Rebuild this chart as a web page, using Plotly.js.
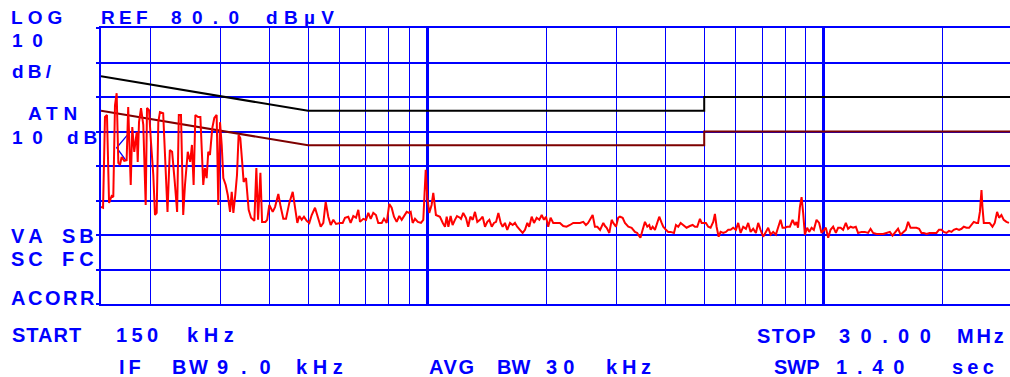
<!DOCTYPE html>
<html>
<head>
<meta charset="utf-8">
<script src="https://cdn.plot.ly/plotly-3.0.1.min.js"></script>
<style>
  html, body { margin: 0; padding: 0; background: #ffffff; overflow: hidden; }
  #chart { width: 1010px; height: 377px; }
</style>
</head>
<body>
<div id="chart"></div>
<script>
// ---------------- DATA ----------------
// Measured spectrum (frequency in kHz, level in dBµV)
const freqKHz = [
  150, 151.8, 153.5, 155.3, 157.2, 159.6, 161.1, 162.7, 164.3, 165.9,
  167.5, 169.1, 171.7, 174.1, 175.7, 178.3, 179.9, 182.0, 184.6, 185.7,
  187.1, 189.3, 191.8, 194.5, 196.0, 198.3, 200.6, 203.3, 205.3, 207.3,
  209.3, 211.3, 215.3, 217.4, 220.8, 223.8, 226.8, 230.3, 233.5, 235.8,
  238.8, 241.9, 244.4, 248.4, 251.9, 254.5, 257.0, 259.6, 263.8, 267.3,
  269.2, 271.8, 274.4, 277.2, 279.8, 282.6, 286.4, 289.8, 293.8, 296.6,
  299.6, 302.6, 305.4, 309.7, 313.4, 317.6, 320.7, 323.8, 327.4, 330.7,
  333.8, 337.1, 340.5, 343.7, 348.5, 353.9, 358.8, 365.8, 370.1, 373.8,
  378.9, 382.6, 390.1, 394.1, 399.0, 407.0, 412.5, 420.5, 426.4, 432.9,
  439.7, 448.2, 457.2, 463.3, 469.6, 475.1, 481.7, 488.1, 495.9, 503.4,
  510.5, 520.5, 530.5, 538.0, 546.2, 553.8, 562.2, 570.2, 578.9, 588.1,
  601.9, 611.3, 619.5, 631.5, 640.2, 650.3, 660.5, 669.4, 676.0, 689.2,
  700.1, 709.5, 719.4, 730.3, 741.8, 751.8, 766.9, 777.2, 789.5, 801.5,
  812.6, 823.7, 836.7, 849.4, 861.5, 873.1, 886.9, 898.8, 907.6, 918.2,
  930.6, 946.1, 963.8, 976.7, 990.5, 999.7, 1011, 1025, 1035, 1051,
  1076, 1094, 1108, 1119, 1130, 1145, 1158, 1174, 1188, 1209,
  1216, 1232, 1252, 1268, 1284, 1302, 1319, 1337, 1358, 1379,
  1398, 1417, 1434, 1454, 1473, 1491, 1511, 1532, 1549, 1570,
  1591, 1617, 1642, 1664, 1686, 1713, 1740, 1764, 1788, 1808,
  1834, 1859, 1888, 1917, 1944, 1970, 1993, 2019, 2047, 2079,
  2120, 2161, 2203, 2246, 2291, 2335, 2381, 2428, 2475, 2514,
  2546, 2580, 2614, 2649, 2686, 2730, 2781, 2809, 2836, 2880,
  2920, 2947, 2994, 3033, 3064, 3112, 3154, 3216, 3279, 3343,
  3388, 3407, 3451, 3496, 3543, 3591, 3633, 3663, 3705, 3755,
  3806, 3850, 3904, 3940, 4003, 4056, 4112, 4194, 4243, 4299,
  4360, 4426, 4513, 4601, 4675, 4738, 4802, 4877, 4926, 4992,
  5050, 5118, 5189, 5269, 5321, 5373, 5437, 5500, 5584, 5672,
  5749, 5829, 5918, 6012, 6093, 6178, 6272, 6371, 6457, 6547,
  6647, 6752, 6843, 6938, 7044, 7156, 7252, 7355, 7466, 7584,
  7686, 7793, 7885, 7992, 8100, 8228, 8357, 8470, 8550, 8627,
  8719, 8806, 8888, 8976, 9097, 9203, 9332, 9457, 9606, 9752,
  9890, 10020, 10140, 10280, 10420, 10580, 10750, 10890, 11050, 11210,
  11390, 11540, 11710, 11880, 12070, 12230, 12480, 12720, 12960, 13150,
  13350, 13620, 13880, 14150, 14420, 14710, 14940, 15140, 15430, 15660,
  15890, 16140, 16360, 16590, 16840, 17170, 17440, 17680, 17920, 18200,
  18540, 18910, 19290, 19570, 19860, 20130, 20440, 20750, 21050, 21330,
  21660, 22000, 22310, 22610, 22970, 23320, 23640, 23960, 24340, 24570,
  24830, 25060, 25200, 25400, 25780, 26270, 26710, 27070, 27440, 27760,
  28140, 28520, 28970, 29400
];
const levelDbuV = [
  28.1, 27.9, 54.2, 54.8, 29.3, 31.3, 31.0, 57.6, 61.1, 40.9,
  40.3, 42.6, 41.5, 41.7, 57.1, 34.5, 51.3, 44.1, 49.8, 41.2,
  52.7, 56.8, 51.9, 28.7, 56.8, 56.2, 46.9, 37.4, 25.8, 26.4,
  52.7, 55.6, 55.3, 44.1, 26.7, 44.6, 44.1, 35.4, 26.7, 54.8,
  54.8, 25.8, 34.5, 44.1, 41.2, 46.1, 34.5, 54.8, 54.2, 54.2,
  44.1, 34.5, 39.4, 36.5, 44.1, 43.2, 51.0, 53.9, 54.8, 28.7,
  52.7, 46.1, 36.5, 34.5, 31.6, 26.7, 32.5, 26.4, 31.6, 37.4,
  49.0, 48.1, 41.7, 35.4, 36.5, 27.3, 25.0, 24.1, 39.4, 24.4,
  38.0, 23.8, 23.8, 24.4, 28.7, 26.7, 28.1, 31.9, 28.1, 24.7,
  24.7, 29.3, 32.5, 27.3, 23.5, 25.5, 24.4, 25.3, 24.1, 23.5,
  25.8, 27.9, 24.4, 22.4, 23.5, 29.6, 25.3, 22.9, 24.4, 23.2,
  23.5, 23.5, 25.0, 25.3, 23.5, 25.5, 25.0, 27.3, 23.8, 24.7,
  24.4, 26.4, 24.7, 26.4, 25.8, 23.5, 23.5, 24.7, 23.5, 29.0,
  27.9, 25.3, 23.8, 25.5, 24.4, 25.3, 26.7, 26.4, 26.7, 23.5,
  24.7, 23.8, 23.5, 24.4, 38.9, 31.0, 26.4, 28.7, 32.2, 25.8,
  25.3, 23.5, 22.4, 25.3, 22.4, 25.5, 22.9, 24.4, 25.5, 25.0,
  24.7, 26.4, 24.9, 22.4, 25.3, 24.4, 26.7, 23.8, 24.4, 25.3,
  22.4, 23.8, 24.4, 22.4, 23.5, 23.8, 26.4, 23.5, 22.4, 23.5,
  21.5, 23.5, 22.9, 23.5, 22.4, 21.5, 20.6, 21.5, 23.5, 22.4,
  25.3, 23.5, 25.0, 24.4, 25.8, 24.4, 25.3, 22.4, 25.0, 23.5,
  23.5, 23.5, 22.6, 22.4, 22.9, 23.5, 23.5, 23.5, 23.8, 22.9,
  23.5, 24.7, 25.8, 22.4, 22.4, 21.5, 23.5, 22.6, 22.1, 20.6,
  24.4, 23.5, 22.4, 25.0, 25.3, 25.0, 23.5, 22.4, 22.1, 20.9,
  20.6, 20.1, 19.2, 21.5, 23.8, 22.4, 22.9, 21.5, 22.4, 21.5,
  23.5, 25.3, 23.5, 22.4, 21.5, 20.9, 20.9, 20.6, 22.9, 22.4,
  23.5, 22.9, 22.1, 22.6, 22.9, 22.4, 22.4, 24.7, 23.5, 23.5,
  23.5, 22.4, 22.1, 23.8, 26.1, 22.4, 19.5, 20.9, 20.6, 20.9,
  21.5, 21.5, 22.1, 21.5, 23.5, 20.6, 22.4, 21.8, 23.5, 20.9,
  21.8, 20.6, 23.5, 21.5, 19.5, 20.9, 22.1, 20.1, 20.9, 20.1,
  22.4, 24.4, 22.1, 22.1, 22.4, 22.4, 24.4, 22.9, 23.8, 22.1,
  28.1, 31.0, 26.4, 20.1, 22.1, 20.9, 22.1, 21.5, 24.4, 23.5,
  20.6, 21.5, 22.1, 19.2, 21.5, 22.4, 20.6, 22.1, 22.1, 21.5,
  23.5, 21.8, 22.4, 22.1, 22.4, 20.6, 20.9, 20.9, 20.6, 21.8,
  20.6, 20.3, 20.3, 20.3, 20.6, 20.9, 19.8, 20.6, 21.8, 20.1,
  20.9, 21.5, 23.8, 22.1, 22.1, 22.1, 21.8, 20.6, 20.6, 20.3,
  20.6, 20.6, 20.6, 21.5, 21.5, 20.9, 20.6, 21.2, 20.9, 21.5,
  21.8, 21.5, 21.8, 22.4, 22.1, 22.1, 22.9, 23.8, 23.5, 23.5,
  26.7, 33.0, 28.1, 23.5, 23.5, 23.5, 22.4, 23.5, 26.7, 25.0,
  25.8, 24.4, 23.8, 23.5
];

// Limit lines (kHz, dBµV)
const limitFreqKHz = [150, 500, 5000, 5000, 30000];
const qpLimitDbuV  = [66, 56, 56, 60, 60];
const avgLimitDbuV = [56, 46, 46, 50, 50];

// Small display marker
const markerFreqKHz = [175, 164.3, 173.2];
const markerDbuV    = [49.0, 45.3, 41.7];

// Grid / axis values
const majorGridKHz = [1000, 10000];
const minorGridKHz = [200, 300, 400, 500, 600, 700, 800, 900,
                      2000, 3000, 4000, 5000, 6000, 7000, 8000, 9000, 20000];
const levelGrid = [0, 10, 20, 30, 40, 50, 60, 70, 80];
const startKHz = 150;

// Labels
const labelTexts = {
  log: 'LOG', ref: 'REF', refVal: '80.0', refUnit: 'dBµV',
  scale: '10', scaleUnit: 'dB/', atn: 'ATN', atnVal: '10', atnUnit: 'dB',
  va: 'VA', sb: 'SB', sc: 'SC', fc: 'FC', acorr: 'ACORR',
  start: 'START', startVal: '150', startUnit: 'kHz',
  stop: 'STOP', stopVal: '30.00', stopUnit: 'MHz',
  ifbw: 'IF', bw1: 'BW', ifVal: '9.0', ifUnit: 'kHz',
  avg: 'AVG', bw2: 'BW', avgVal: '30', avgUnit: 'kHz',
  swp: 'SWP', swpVal: '1.40', swpUnit: 'sec'
};

// ---------------- LAYOUT ----------------
const W = 1010, H = 377;
const M = { l: 101, r: 0, t: 28, b: 73 };
const plotW = W - M.l - M.r, plotH = H - M.t - M.b;
const PX_PER_DECADE = 396.1;
const xRange = [Math.log10(startKHz), Math.log10(startKHz) + plotW / PX_PER_DECADE];

const BLUE = '#0000ff';
const FONT = '"Liberation Sans", Arial, Helvetica, sans-serif';
const F1 = 19, F2 = 20;

// [text, left px, right px, baseline px, size]
const placements = [
  [labelTexts.log, 12, 61.7, 24, F1],
  [labelTexts.ref, 101.7, 146.7, 24, F1],
  [labelTexts.refVal, 171.7, 238, 24, F1],
  [labelTexts.refUnit, 266.7, 333, 24, F1],
  [labelTexts.scale, 12.7, 41.7, 46.7, F1],
  [labelTexts.scaleUnit, 12.7, 50, 78.3, F1],
  [labelTexts.atn, 29.3, 76.7, 120, F1],
  [labelTexts.atnVal, 12.7, 41.7, 144, F1],
  [labelTexts.atnUnit, 68.3, 96.7, 144, F1],
  [labelTexts.va, 11.7, 41.7, 242.7, F2],
  [labelTexts.sb, 63.3, 93.3, 242.7, F2],
  [labelTexts.sc, 11.7, 41.7, 266, F2],
  [labelTexts.fc, 63.3, 93.3, 266, F2],
  [labelTexts.acorr, 11.7, 93.3, 305, F2],
  [labelTexts.start, 12.7, 80, 342, F2],
  [labelTexts.startVal, 116.7, 157, 342, F2],
  [labelTexts.startUnit, 188, 233, 342, F2],
  [labelTexts.stop, 758.3, 815, 342.5, F2],
  [labelTexts.stopVal, 840, 930, 342.5, F2],
  [labelTexts.stopUnit, 958.3, 1003.3, 342.5, F2],
  [labelTexts.ifbw, 120, 140, 373.5, F2],
  [labelTexts.bw1, 172.7, 206.7, 373.5, F2],
  [labelTexts.ifVal, 218.3, 270, 373.5, F2],
  [labelTexts.ifUnit, 296.7, 341.7, 373.5, F2],
  [labelTexts.avg, 430, 473.3, 373.5, F2],
  [labelTexts.bw2, 498.3, 530, 373.5, F2],
  [labelTexts.avgVal, 546.7, 573.3, 373.5, F2],
  [labelTexts.avgUnit, 606.7, 650, 373.5, F2],
  [labelTexts.swp, 775, 818.3, 373.5, F2],
  [labelTexts.swpVal, 836.7, 903.3, 373.5, F2],
  [labelTexts.swpUnit, 953.3, 993.3, 373.5, F2]
];

const ctx = document.createElement('canvas').getContext('2d');
function letterSpacing(t, x0, x1, size) {
  ctx.font = 'bold ' + size + 'px "Liberation Sans"';
  const w = ctx.measureText(t).width;
  const n = Array.from(t).length;
  if (n < 2) return 0;
  return Math.max(0, (x1 - x0 - (w - 0.09 * size)) / (n - 1));
}

const annotations = placements.map(([t, x0, x1, base, size]) => {
  const ls = letterSpacing(t, x0, x1, size);
  const yc = base - 0.3465 * size;
  return {
    xref: 'paper', yref: 'paper',
    x: (x0 - 1 - M.l) / plotW,
    y: (M.t + plotH - yc) / plotH,
    xanchor: 'left', yanchor: 'middle',
    showarrow: false, borderpad: 0, borderwidth: 0,
    text: '<span style="letter-spacing:' + ls.toFixed(2) + 'px">' + t + '</span>',
    font: { family: FONT, size: size, color: BLUE, weight: 'bold' }
  };
});

const traces = [
  {
    x: limitFreqKHz, y: qpLimitDbuV, type: 'scatter', mode: 'lines',
    line: { color: '#000000', width: 2 }, hoverinfo: 'skip'
  },
  {
    x: limitFreqKHz, y: avgLimitDbuV, type: 'scatter', mode: 'lines',
    line: { color: '#7d0000', width: 2 }, hoverinfo: 'skip'
  },
  {
    x: markerFreqKHz, y: markerDbuV, type: 'scatter', mode: 'lines',
    line: { color: BLUE, width: 1.3 }, hoverinfo: 'skip'
  },
  {
    x: freqKHz, y: levelDbuV, type: 'scatter', mode: 'lines',
    line: { color: '#ff0000', width: 2 }, hoverinfo: 'skip'
  }
];

const layout = {
  width: W, height: H,
  margin: { l: M.l, r: M.r, t: M.t, b: M.b, pad: 0 },
  paper_bgcolor: '#ffffff', plot_bgcolor: '#ffffff',
  showlegend: false,
  xaxis: {
    type: 'log', range: xRange, fixedrange: true,
    tickmode: 'array', tickvals: majorGridKHz, showticklabels: false, ticks: '',
    showgrid: true, gridcolor: BLUE, gridwidth: 2.4,
    minor: { tickmode: 'array', tickvals: minorGridKHz, showgrid: true,
             gridcolor: BLUE, gridwidth: 1, ticks: '' },
    showline: true, linecolor: BLUE, linewidth: 2, mirror: true,
    zeroline: false
  },
  yaxis: {
    range: [0, 80], fixedrange: true,
    tickmode: 'array', tickvals: levelGrid, showticklabels: false,
    ticks: 'outside', ticklen: 3, tickwidth: 2, tickcolor: BLUE,
    showgrid: true, gridcolor: BLUE, gridwidth: 2,
    showline: true, linecolor: BLUE, linewidth: 2, mirror: false,
    zeroline: false
  },
  annotations: annotations
};

Plotly.newPlot('chart', traces, layout, { staticPlot: true, displayModeBar: false });
</script>
</body>
</html>
